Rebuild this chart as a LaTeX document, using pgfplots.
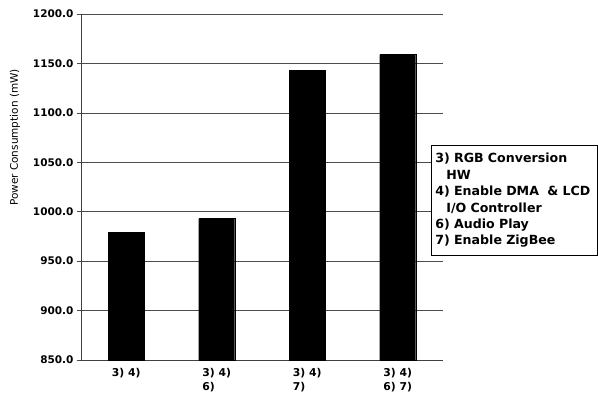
\documentclass[border=0pt]{standalone}
\usepackage{fontspec}
\setmainfont{DejaVu Sans}
\usepackage{pgfplots}
\pgfplotsset{compat=1.18}
\begin{document}
\begin{tikzpicture}
\useasboundingbox (-81pt,-40pt) rectangle (517pt,360pt);
\begin{axis}[
  at={(0pt,0pt)}, anchor=south west,
  scale only axis, width=362pt, height=346pt,
  xmin=-0.5, xmax=3.5, ymin=850, ymax=1200,
  ytick={850,900,...,1200},
  xtick={0,1,2,3},
  xticklabels={{3) 4)},{3) 4)\\6)},{3) 4)\\7)},{3) 4)\\6) 7)}},
  xticklabel style={align=left, font=\fontsize{10.8}{14}\selectfont\bfseries, yshift=-1pt},
  yticklabel style={font=\fontsize{10.5}{12}\selectfont\bfseries,
    /pgf/number format/.cd, fixed, fixed zerofill, precision=1, 1000 sep={}, assume math mode=true},
  axis x line=bottom, axis y line=left,
  axis line style={-, draw=black!75, line width=0.6pt},
  ymajorgrids, grid style={draw=black!70, line width=0.6pt},
  xtick style={draw=none},
  ytick style={draw=black!70, line width=0.6pt},
  tick align=outside, major tick length=4pt,
  ylabel={Power Consumption (mW)},
  ylabel style={at={(axis description cs:0,0.643)}, anchor=center, yshift=66pt,
    font=\fontsize{10.5}{12}\selectfont},
  ybar, bar width=36pt,
  clip=false,
]
\addplot[fill=black, draw=black] coordinates {(0,979) (1,993) (2,1143) (3,1159)};
\end{axis}
\node[draw=black, line width=0.8pt, fill=white, anchor=north west, align=left,
  minimum width=166pt, minimum height=110pt, text width=158pt, inner xsep=4pt, inner ysep=4pt,
  font=\fontsize{12.6}{16.4}\selectfont\bfseries] at (350pt,215pt)
  {3) RGB Conversion\\\hspace*{11pt}HW\\4) Enable DMA \ \& LCD\\\hspace*{11pt}I/O Controller\\6) Audio Play\\7) Enable ZigBee};
\end{tikzpicture}
\end{document}
